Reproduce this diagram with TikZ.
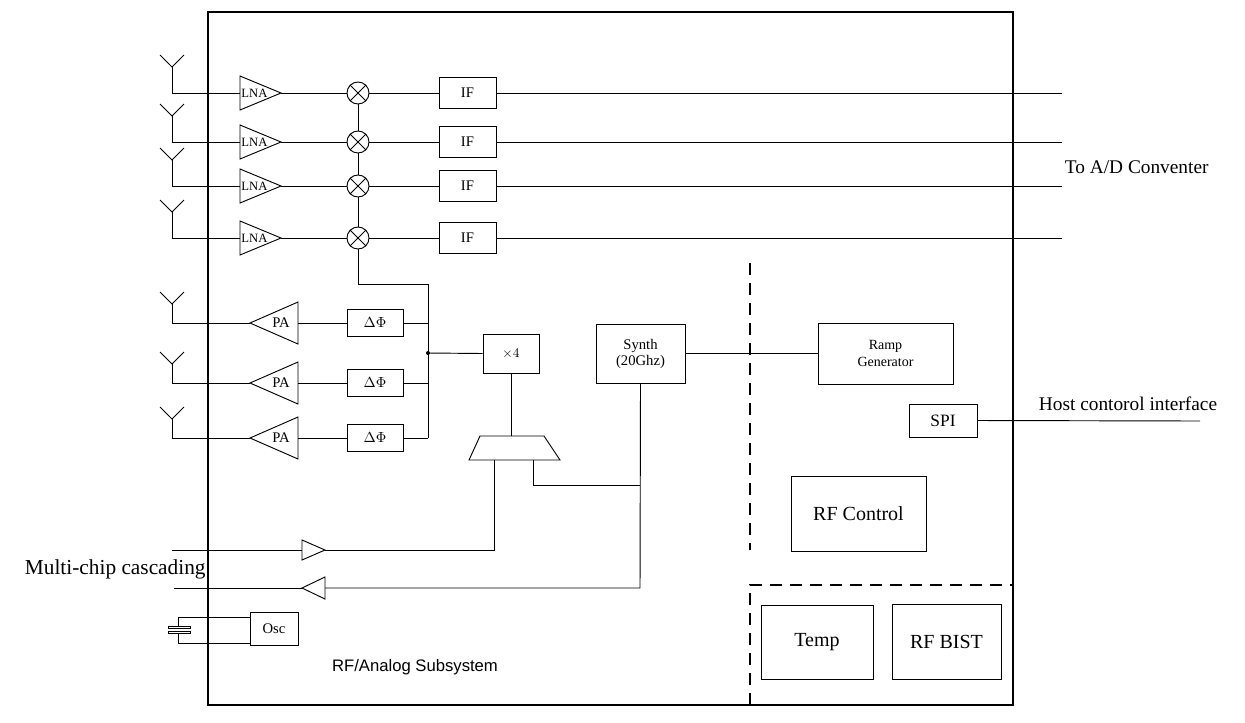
\documentclass[tikz,border=0pt]{standalone}
\usepackage{fontspec}
\setmainfont{Liberation Serif}
\newfontfamily\sansf{Liberation Sans}
\begin{document}
\begin{tikzpicture}[x=0.75pt,y=-0.75pt,line width=0.7pt,
  blk/.style={draw,rectangle,inner sep=0pt,anchor=north west},
  lbl/.style={font=\fontsize{11}{12}\selectfont},
  dsh/.style={dash pattern=on 9pt off 6pt,line width=1pt}]
\useasboundingbox (0,0) rectangle (1245,722);
\draw[line width=1.2pt] (208,12) rectangle (1013,705);
% RX chains
\foreach \y/\n in {93/1,142/2,186/3,238/4}{
  \draw (160,\y-38) -- (172,\y-26) -- (184,\y-38);
  \draw (172,\y-26) -- (172,\y) -- (240,\y);
  \draw (240,\y-17) -- (281,\y) -- (240,\y+17) -- cycle;
  \node[font=\fontsize{9.5}{10}\selectfont,anchor=west,inner sep=0pt] at (241,\y) {LNA};
  \node[draw,circle,minimum size=22pt*0.75,inner sep=0pt] (m\n) at (358,\y) {};
  \draw (m\n.north west) -- (m\n.south east) (m\n.north east) -- (m\n.south west);
  \draw (281,\y) -- (m\n.west);
  \node[blk,minimum width=57pt*0.75,minimum height=31pt*0.75,lbl,anchor=center] (if\n) at (467.5,\y) {IF};
  \draw (m\n.east) -- (if\n.west);
  \coordinate (o\n) at (1062,\y);
  \draw (if\n.east) -- (o\n);
}
\draw (m1) -- (m2) (m2) -- (m3) (m3) -- (m4);
\coordinate (c1) at (358,284); \coordinate (c2) at (428,284);
\draw (m4.south) -- (c1) -- (c2) -- (428,438);
\node[font=\fontsize{14.5}{16}\selectfont,anchor=west] at (1060,167) {To A/D Conventer};
% TX chains
\foreach \y/\n in {323/1,383/2,438/3}{
  \draw (160,\y-31) -- (172,\y-19) -- (184,\y-31);
  \draw (172,\y-19) -- (172,\y) -- (250,\y);
  \draw (250,\y) -- (298,\y-21) -- (298,\y+21) -- cycle;
  \node[lbl] at (281,\y) {PA};
  \node[blk,minimum width=56pt*0.75,minimum height=27pt*0.75,lbl,anchor=center] (p\n) at (375,\y) {$\Delta\Phi$};
  \draw (298,\y) -- (p\n.west);
  \draw (p\n.east) -- (428,\y);
}
\fill (428,353) circle (1.5pt);
\node[blk,minimum width=56pt*0.75,minimum height=39pt*0.75,font=\fontsize{10}{12}\selectfont,anchor=center] (x4) at (511,353.5) {${\times}4$};
\draw (428,353) -- (x4.west);
% mux
\draw (480,436) -- (544,436) -- (560,460) -- (469,460) -- cycle;
\draw (x4.south) -- (511,436);
\node[blk,minimum width=89pt*0.75,minimum height=59pt*0.75,lbl,align=center,anchor=center] (syn) at (640.5,353.5) {Synth\\(20Ghz)};
\draw (494,460) -- (494,550) -- (325,550);
\draw (302,540) -- (325,550) -- (302,560) -- cycle;
\draw (172,550) -- (302,550);
\draw (533,460) -- (533,485) -- (640,485);
\draw (syn.south) -- (640,588) -- (325,588);
\draw (302,588) -- (325,577) -- (325,599) -- cycle;
\draw (302,588) -- (174,588);
\node[font=\fontsize{16}{18}\selectfont,anchor=west] at (20,569) {Multi-chip cascading};
% osc
\node[blk,minimum width=48pt*0.75,minimum height=33pt*0.75,lbl,anchor=center] (osc) at (274,628.5) {Osc};
\draw (250,617) -- (178,617) -- (178,626);
\draw (250,643) -- (178,643) -- (178,633);
\draw (168,626) rectangle (190,628.5);
\draw (168,631) rectangle (190,633.5);
\node[font=\sansf\fontsize{12.5}{14}\selectfont] at (415,667) {RF/Analog Subsystem};
% right side
\node[blk,minimum width=135pt*0.75,minimum height=61pt*0.75,font=\fontsize{10.5}{12.5}\selectfont,align=center,anchor=center] (ramp) at (885.5,353.5) {Ramp\\Generator};
\draw (syn.east) -- (ramp.west);
\draw[dsh] (750,263) -- (750,550);
\draw[dsh] (750,705) -- (750,585) -- (1013,585);
\node[blk,minimum width=68pt*0.75,minimum height=33pt*0.75,font=\fontsize{13}{14}\selectfont,anchor=center] (spi) at (943,420.5) {SPI};
\coordinate (h) at (1200,421);
\draw (spi.east) -- (h);
\node[font=\fontsize{14.5}{16}\selectfont] at (1128,404) {Host contorol interface};
\node[blk,minimum width=135pt*0.75,minimum height=75pt*0.75,font=\fontsize{15}{17}\selectfont,anchor=center] at (858.5,513.5) {RF Control};
\node[blk,minimum width=112pt*0.75,minimum height=74pt*0.75,font=\fontsize{15}{17}\selectfont,anchor=center] at (817,642) {Temp};
\node[blk,minimum width=109pt*0.75,minimum height=75pt*0.75,font=\fontsize{15}{17}\selectfont,anchor=center] at (946.5,641.5) {RF BIST};
\end{tikzpicture}
\end{document}
